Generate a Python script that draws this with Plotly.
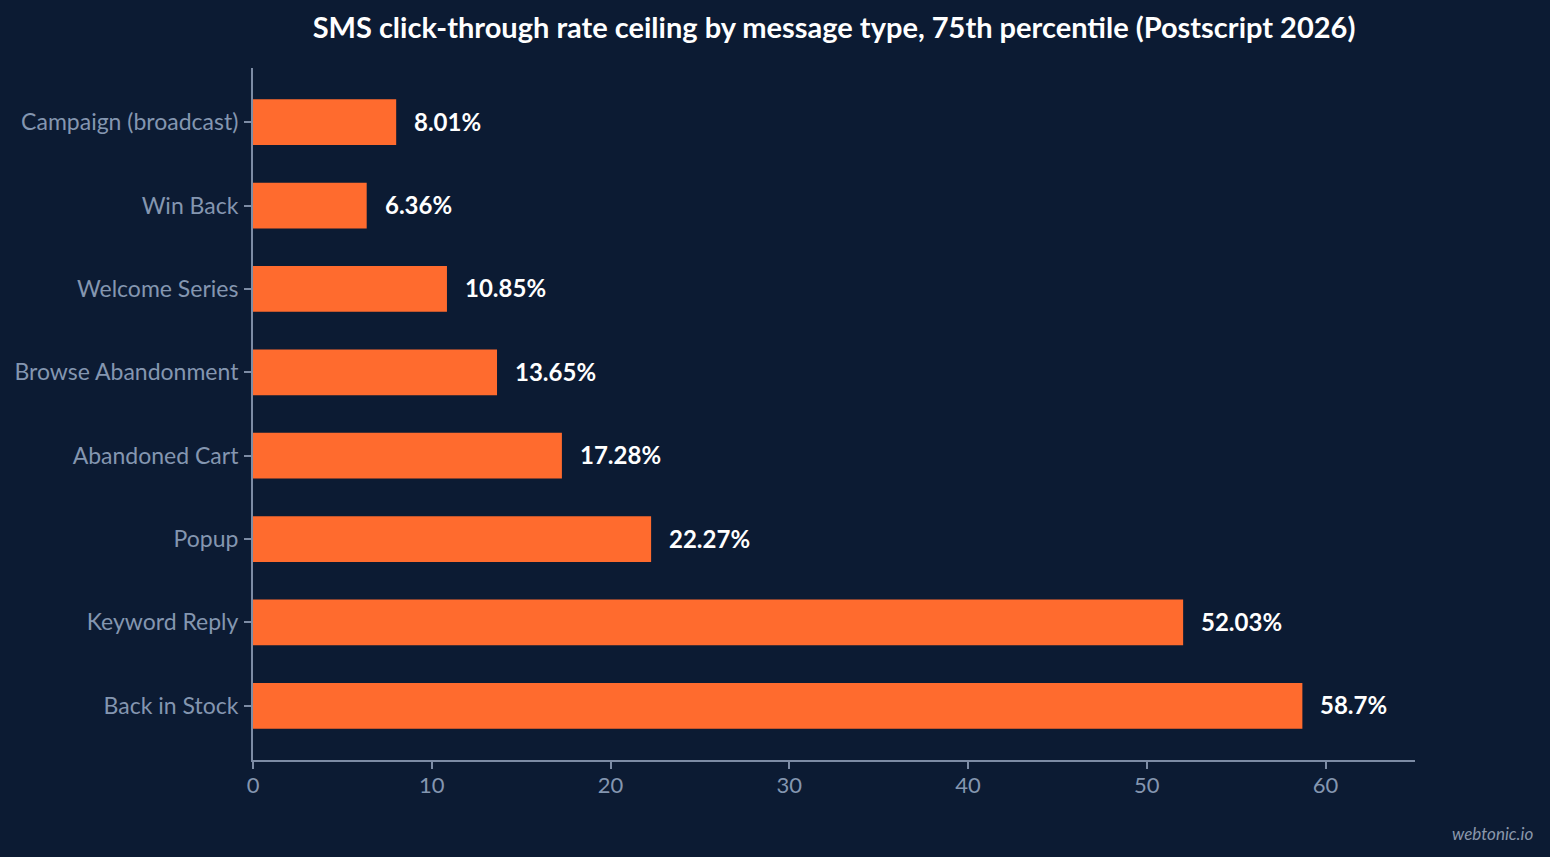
#------------------------------------------------------------------------------
#   SMS click-through rate ceiling by message type
#------------------------------------------------------------------------------
import plotly.graph_objects as go

#------------------------------------------------------------------------------
#   Data
#------------------------------------------------------------------------------
message_types = ["Back in Stock", "Keyword Reply", "Popup", "Abandoned Cart",
                 "Browse Abandonment", "Welcome Series", "Win Back",
                 "Campaign (broadcast)"]
ctr_p75 = [58.7, 52.03, 22.27, 17.28, 13.65, 10.85, 6.36, 8.01]
value_labels = ["58.7%", "52.03%", "22.27%", "17.28%", "13.65%", "10.85%",
                "6.36%", "8.01%"]

bg = "#0c1b33"
bar_color = "#ff6b2e"
axis_color = "#7d8ca5"
tick_color = "#8496b0"

#------------------------------------------------------------------------------
#   Figure
#------------------------------------------------------------------------------
fig = go.Figure(go.Bar(x=ctr_p75, y=message_types, orientation="h",
                       marker=dict(color=bar_color, line=dict(width=0)),
                       width=0.55, hoverinfo="x+y"))

for v, cat, lab in zip(ctr_p75, message_types, value_labels):
    fig.add_annotation(x=v, y=cat, text="<b>" + lab + "</b>", showarrow=False,
                       xanchor="left", xshift=16, yshift=1,
                       font=dict(family="Lato", size=24, color="#ffffff"))

fig.add_annotation(x=1, y=0, xref="paper", yref="paper", xanchor="right",
                   yanchor="bottom", xshift=120, yshift=-86,
                   text="<i>webtonic.io</i>", showarrow=False,
                   font=dict(family="Lato", size=17, color="#8a97ab"))

fig.update_layout(
    width=1550, height=857,
    paper_bgcolor=bg, plot_bgcolor=bg,
    margin=dict(l=253, r=135, t=68, b=97),
    title=dict(text="<b>SMS click-through rate ceiling by message type, 75th percentile (Postscript 2026)</b>",
               x=(253 + 1415) / 2 / 1550, xanchor="center", y=0.968, yanchor="middle",
               font=dict(family="Lato", size=29, color="#ffffff")),
    font=dict(family="Lato", color=tick_color),
    showlegend=False,
    xaxis=dict(range=[0, 65], dtick=10, showgrid=False, zeroline=False,
               showline=True, linecolor=axis_color, linewidth=2,
               ticks="outside", ticklen=7, tickcolor=axis_color, tickwidth=2,
               ticklabelstandoff=-2,
               tickfont=dict(family="Lato", size=22, color=tick_color)),
    yaxis=dict(range=[-0.65, 7.65], showgrid=False, zeroline=False,
               showline=True, linecolor=axis_color, linewidth=2,
               ticks="outside", ticklen=7, tickcolor=axis_color, tickwidth=2,
               ticklabelstandoff=1,
               tickfont=dict(family="Lato", size=23, color=tick_color)),
)

fig.write_html("out.html", config={"displayModeBar": False},
               post_script="document.body.style.margin='0';")
